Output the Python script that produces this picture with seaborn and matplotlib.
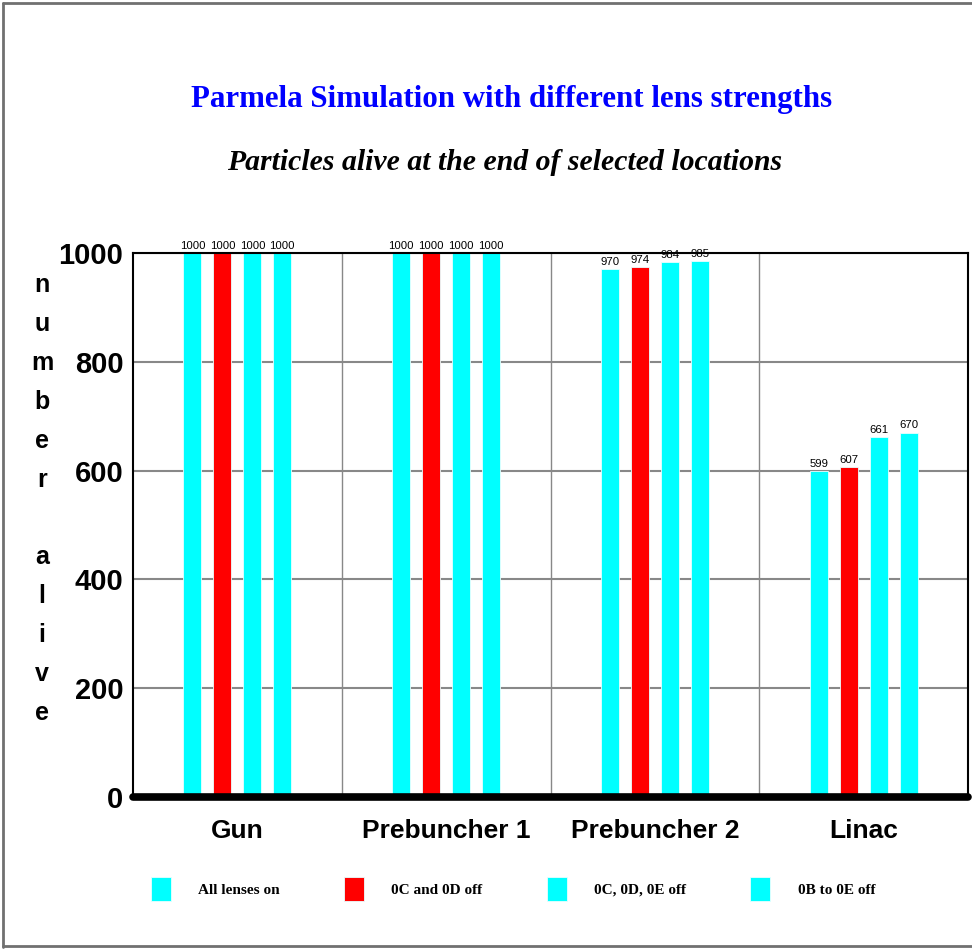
import matplotlib
matplotlib.use("Agg")
import matplotlib.pyplot as plt
import seaborn as sns
import pandas as pd
from matplotlib import font_manager
from matplotlib.lines import Line2D

# Particles alive at the end of each beamline section
locations = ["Gun", "Prebuncher 1", "Prebuncher 2", "Linac"]
settings = ["All lenses on", "0C and 0D off", "0C, 0D, 0E off", "0B to 0E off"]
all_lenses_on = [1000, 1000, 970, 599]
c_d_off = [1000, 1000, 974, 607]
c_d_e_off = [1000, 1000, 984, 661]
b_to_e_off = [1000, 1000, 985, 670]
bar_colors = ["#00FFFF", "#FF0000", "#00FFFF", "#00FFFF"]
yticks = [0, 200, 400, 600, 800, 1000]

df = pd.DataFrame({
    "location": locations * 4,
    "setting": [s for s in settings for _ in locations],
    "alive": all_lenses_on + c_d_off + c_d_e_off + b_to_e_off,
})

sns.set_style("white")
available = {f.name for f in font_manager.fontManager.ttflist}
SANS_N = "Liberation Sans Narrow" if "Liberation Sans Narrow" in available else "Liberation Sans"
SERIF = "Liberation Serif"
plt.rcParams["font.family"] = [SANS_N, "DejaVu Sans"]
plt.rcParams["text.color"] = "black"
plt.rcParams["xtick.color"] = "black"
plt.rcParams["ytick.color"] = "black"

fig = plt.figure(figsize=(9.72, 9.5), dpi=100)
ax = fig.add_axes([133 / 972, 1 - 797 / 950, 835 / 972, 544 / 950])

sns.barplot(data=df, x="location", y="alive", hue="setting", order=locations,
            hue_order=settings, palette=bar_colors, saturation=1, width=0.574,
            gap=0.4, edgecolor="#e8ffff", linewidth=0.6, errorbar=None, ax=ax)

for cont in ax.containers:
    ax.bar_label(cont, fmt="{:.0f}", padding=1.5, fontsize=8.2, family=SANS_N,
                 color="black", zorder=6)

ax.set_xlim(-0.5, 3.5)
ax.set_ylim(0, 1000)
ax.set_yticks(yticks)
ax.set_xlabel("")
ax.set_ylabel("")

# horizontal grid and vertical section dividers
ax.set_axisbelow(True)
ax.grid(axis="y", which="major", color="#888888", lw=1.5)
ax.set_xticks([0.5, 1.5, 2.5], minor=True)
ax.grid(axis="x", which="minor", color="#888888", lw=1.0)
ax.grid(axis="x", which="major", visible=False)

for side in ["left", "top", "right"]:
    ax.spines[side].set_color("black")
    ax.spines[side].set_linewidth(1.5)
ax.spines["bottom"].set_visible(False)
ax.axhline(0, color="black", lw=5.5, solid_capstyle="round", clip_on=False, zorder=5)

ax.tick_params(axis="both", which="both", length=0)
ax.tick_params(axis="y", pad=7, labelsize=21)
ax.tick_params(axis="x", pad=16, labelsize=19)
for lab in ax.get_yticklabels() + ax.get_xticklabels():
    lab.set_fontweight("bold")
    lab.set_family(SANS_N)

# legend along the bottom
handles, labels = ax.get_legend_handles_labels()
ax.legend(handles, labels, loc="center", bbox_to_anchor=(513 / 972, 1 - 889 / 950),
          bbox_transform=fig.transFigure, ncol=4, frameon=False,
          prop=dict(family=SERIF, weight="bold", size=11),
          handlelength=1.3, handleheight=2.14, handletextpad=1.8, columnspacing=4.2)

# titles
fig.text(512 / 972, 1 - 100 / 950, "Parmela Simulation with different lens strengths",
         ha="center", va="center", color="#0000FF", fontsize=22.2, fontweight="bold",
         family=SERIF)
fig.text(505 / 972, 1 - 163 / 950, "Particles alive at the end of selected locations",
         ha="center", va="center", color="black", fontsize=21.4, fontweight="bold",
         style="italic", family=SERIF)

# stacked vertical axis caption
fig.text(42 / 972, 1 - 499 / 950, "\n".join("number alive"), ha="center", va="center",
         fontsize=18, fontweight="bold", family="Liberation Sans", linespacing=1.78)

# outer frame
frame_kw = dict(color="#707070", lw=2, transform=fig.transFigure)
fig.add_artist(Line2D([2.5 / 972, 2.5 / 972], [3 / 950, 1 - 2.5 / 950], **frame_kw))
fig.add_artist(Line2D([2.5 / 972, 1.0], [1 - 2.5 / 950, 1 - 2.5 / 950], **frame_kw))
fig.add_artist(Line2D([2.5 / 972, 1.0], [4 / 950, 4 / 950], **frame_kw))

fig.savefig("out.png", dpi=100)
